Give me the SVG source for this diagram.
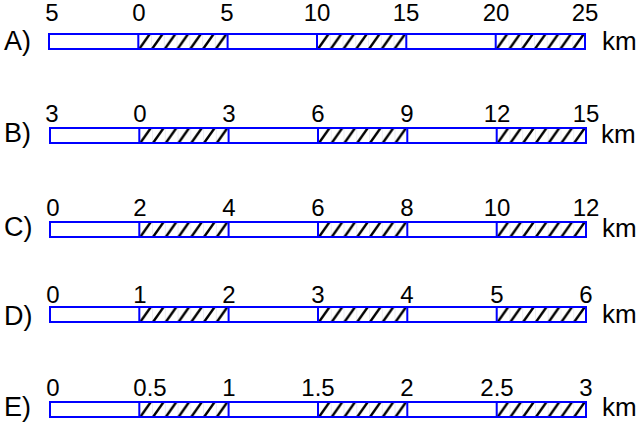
<svg xmlns="http://www.w3.org/2000/svg" width="640" height="423" viewBox="0 0 640 423">
<style>
.t{font-family:"Liberation Sans",Arial,sans-serif;font-size:24px;fill:#000}
.l{font-family:"Liberation Sans",Arial,sans-serif;font-size:27px;fill:#000}
.k{font-family:"Liberation Sans",Arial,sans-serif;font-size:26px;fill:#000}
.n{text-anchor:middle}
.bar{fill:#fff;stroke:#0000ff;stroke-width:2}
.h{fill:url(#hatch);stroke:#0000ff;stroke-width:2}
</style>
<defs>
<pattern id="hatch" patternUnits="objectBoundingBox" x="0" y="0" width="0.142857" height="1">
<line x1="0" y1="0" x2="0" y2="15" stroke="#8080c0" stroke-width="0.6" opacity="0.5"/>
<line x1="1" y1="15" x2="11.5" y2="0" stroke="#000" stroke-width="2.4"/>
</pattern>
</defs>
<rect width="640" height="423" fill="#fff"/>
<g id="rowA">
<text class="l" x="4" y="50">A)</text>
<rect class="bar" x="49" y="34" width="536" height="15"/>
<rect class="h" x="138.3" y="34" width="89.3" height="15"/>
<rect class="h" x="317" y="34" width="89.3" height="15"/>
<rect class="h" x="495.7" y="34" width="89.3" height="15"/>
<g class="t n"><text x="52" y="21">5</text><text x="139" y="21">0</text><text x="227" y="21">5</text><text x="317" y="21">10</text><text x="406" y="21">15</text><text x="496" y="21">20</text><text x="585" y="21">25</text></g>
<text class="k" x="602" y="50">km</text>
</g>
<g id="rowB">
<text class="l" x="4" y="142">B)</text>
<rect class="bar" x="50" y="128" width="536" height="15"/>
<rect class="h" x="139.3" y="128" width="89.3" height="15"/>
<rect class="h" x="318" y="128" width="89.3" height="15"/>
<rect class="h" x="496.7" y="128" width="89.3" height="15"/>
<g class="t n"><text x="52" y="122">3</text><text x="140" y="122">0</text><text x="229" y="122">3</text><text x="318" y="122">6</text><text x="407" y="122">9</text><text x="497" y="122">12</text><text x="586" y="122">15</text></g>
<text class="k" x="601" y="143">km</text>
</g>
<g id="rowC">
<text class="l" x="4" y="236">C)</text>
<rect class="bar" x="50" y="222" width="536" height="15"/>
<rect class="h" x="139.3" y="222" width="89.3" height="15"/>
<rect class="h" x="318" y="222" width="89.3" height="15"/>
<rect class="h" x="496.7" y="222" width="89.3" height="15"/>
<g class="t n"><text x="53" y="216">0</text><text x="140" y="216">2</text><text x="229" y="216">4</text><text x="318" y="216">6</text><text x="407" y="216">8</text><text x="497" y="216">10</text><text x="586" y="216">12</text></g>
<text class="k" x="602" y="237">km</text>
</g>
<g id="rowD">
<text class="l" x="4" y="325">D)</text>
<rect class="bar" x="50" y="307" width="536" height="15"/>
<rect class="h" x="139.3" y="307" width="89.3" height="15"/>
<rect class="h" x="318" y="307" width="89.3" height="15"/>
<rect class="h" x="496.7" y="307" width="89.3" height="15"/>
<g class="t n"><text x="53" y="303">0</text><text x="140" y="303">1</text><text x="229" y="303">2</text><text x="318" y="303">3</text><text x="407" y="303">4</text><text x="497" y="303">5</text><text x="586" y="303">6</text></g>
<text class="k" x="602" y="323">km</text>
</g>
<g id="rowE">
<text class="l" x="4" y="416">E)</text>
<rect class="bar" x="50" y="402" width="536" height="15"/>
<rect class="h" x="139.3" y="402" width="89.3" height="15"/>
<rect class="h" x="318" y="402" width="89.3" height="15"/>
<rect class="h" x="496.7" y="402" width="89.3" height="15"/>
<g class="t n"><text x="53" y="396">0</text><text x="150" y="396">0.5</text><text x="229" y="396">1</text><text x="318" y="396">1.5</text><text x="407" y="396">2</text><text x="497" y="396">2.5</text><text x="586" y="396">3</text></g>
<text class="k" x="602" y="416">km</text>
</g>
</svg>
